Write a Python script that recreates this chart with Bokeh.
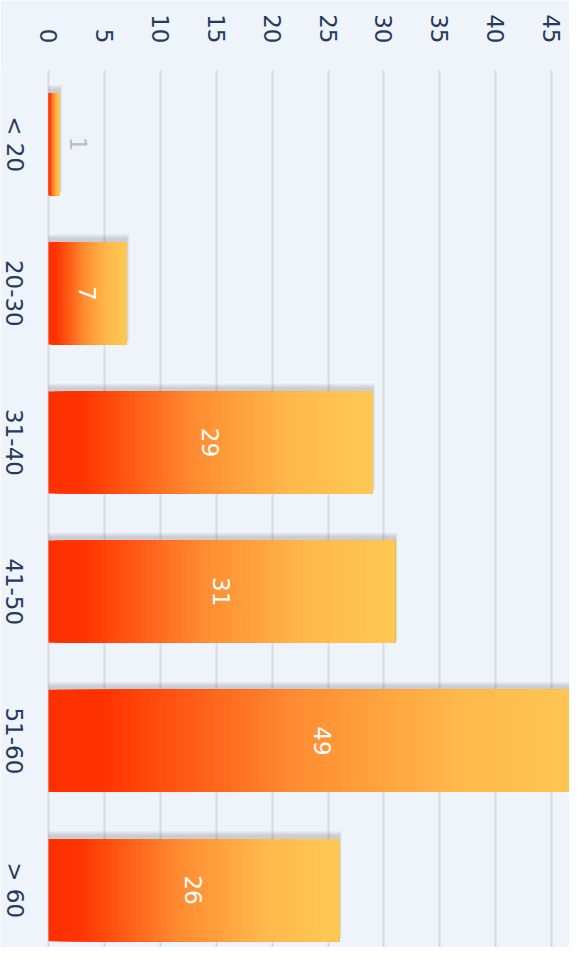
import math
from bokeh.plotting import figure
from bokeh.models import Range1d, FixedTicker, ColumnDataSource
from bokeh.core.properties import value
from bokeh.embed import file_html
from bokeh.resources import INLINE

# ---- data ----
categories = ["< 20", "20-30", "31-40", "41-50", "51-60", "> 60"]
counts = [1, 7, 29, 31, 49, 26]
value_ticks = [0, 5, 10, 15, 20, 25, 30, 35, 40, 45]

# ---- layout constants ----
W, H = 569, 947
FRAME_TOP = 69            # px from figure top
PX_PER_UNIT_X = 11.18     # px per count
ZERO_PX = 48              # figure x of count 0
PX_PER_CAT = 149.2        # px per category band
BAR_FRAC = 0.685

x_start = -ZERO_PX / PX_PER_UNIT_X
x_end = x_start + W / PX_PER_UNIT_X
y_top = -0.5
y_bottom = y_top + (H - FRAME_TOP) / PX_PER_CAT

BG = "#EFF3FA"
FONT = "DejaVu Sans"
AXIS_COLOR = "#26395F"

stops = [(0.00, (255, 48, 0)), (0.10, (255, 51, 0)), (0.45, (255, 140, 50)),
         (0.75, (255, 185, 75)), (1.00, (255, 200, 83))]


def grad(t):
    for (t0, c0), (t1, c1) in zip(stops[:-1], stops[1:]):
        if t <= t1:
            f = (t - t0) / (t1 - t0) if t1 > t0 else 0
            return "#%02x%02x%02x" % tuple(int(round(a + (b - a) * f)) for a, b in zip(c0, c1))
    return "#%02x%02x%02x" % stops[-1][1]


p = figure(width=W, height=H, x_range=Range1d(x_start, x_end),
           y_range=Range1d(y_bottom, y_top), output_backend="svg",
           toolbar_location=None, x_axis_location="above", y_axis_location=None,
           min_border_left=0, min_border_right=0, min_border_top=FRAME_TOP,
           min_border_bottom=0)
p.background_fill_color = BG
p.border_fill_color = BG
p.outline_line_color = None

ax = p.xaxis[0]
ax.ticker = FixedTicker(ticks=value_ticks)
ax.axis_line_color = None
ax.major_tick_line_color = None
ax.minor_tick_line_color = None
ax.major_label_orientation = -math.pi / 2
ax.major_label_standoff = 20
ax.major_label_text_font = FONT
ax.major_label_text_font_size = "23px"
ax.major_label_text_color = AXIS_COLOR

p.ygrid.visible = False
p.xgrid.grid_line_color = "#D9DBDE"
p.xgrid.grid_line_width = 2

half = BAR_FRAC / 2
ys = list(range(len(categories)))

# soft shadows behind bars (mostly above the bar)
for k in range(1, 6):
    dx = 0.5 * k / PX_PER_UNIT_X
    dy = k / PX_PER_CAT
    off = 3 / PX_PER_CAT
    p.quad(left=[0] * len(counts), right=[c + dx for c in counts],
           top=[y - half - off - dy for y in ys], bottom=[y + half - off for y in ys],
           fill_color="black", fill_alpha=0.03, line_color=None)

# gradient bars (each bar painted as successive slices running to the bar end)
N = 60
L, R, T, B, C = [], [], [], [], []
for y, c in zip(ys, counts):
    for j in range(N):
        L.append(c * j / N)
        R.append(c)
        T.append(y - half)
        B.append(y + half)
        C.append(grad((j + 0.5) / N))
p.quad(source=ColumnDataSource(dict(l=L, r=R, t=T, b=B, c=C)),
       left="l", right="r", top="t", bottom="b", fill_color="c", line_color=None)

# value labels
lx, lc = [], []
for c in counts:
    if c * PX_PER_UNIT_X >= 40:
        lx.append(c / 2)
        lc.append("white")
    else:
        lx.append(c + 19 / PX_PER_UNIT_X)
        lc.append("#BDBDBD")
p.text(x=lx, y=ys, text=[str(c) for c in counts], angle=-math.pi / 2,
       text_align="center", text_baseline="middle", text_color=lc,
       text_font=value(FONT), text_font_size="23px")

# category labels
p.text(x=[(14 - ZERO_PX) / PX_PER_UNIT_X] * len(categories), y=ys, text=categories,
       angle=-math.pi / 2, text_align="center", text_baseline="middle",
       text_color=AXIS_COLOR, text_font=value(FONT), text_font_size="23px")

open("out.html", "w").write(file_html(p, INLINE))
